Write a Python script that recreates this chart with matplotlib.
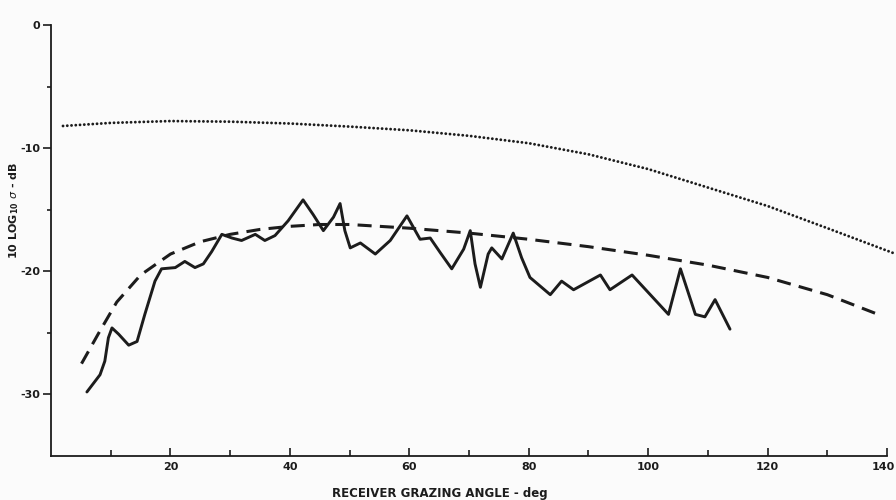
import numpy as np
import matplotlib
matplotlib.use("Agg")
import matplotlib.pyplot as plt
import matplotlib.transforms as mtransforms

# grazing angle (deg) vs 10 log10 sigma (dB)
solid_x = [6.0, 8.2, 9.0, 9.6, 10.2, 11.3, 13.0, 14.4, 15.7, 17.4, 18.5, 20.8,
           22.4, 24.1, 25.5, 26.9, 28.6, 30.3, 31.9, 34.2, 35.8, 37.5, 39.7,
           42.2, 43.9, 45.6, 47.3, 48.4, 49.2, 50.1, 51.8, 54.3, 56.8, 59.6,
           61.8, 63.5, 65.2, 67.1, 69.1, 70.2, 71.0, 71.9, 73.2, 73.8, 75.5,
           77.4, 78.8, 80.2, 83.6, 85.5, 87.5, 92.0, 93.6, 97.3, 103.4, 105.4,
           107.9, 109.5, 111.2, 113.7]
solid_y = [-29.8, -28.4, -27.3, -25.4, -24.6, -25.1, -26.0, -25.7, -23.5, -20.8,
           -19.8, -19.7, -19.2, -19.7, -19.4, -18.4, -17.0, -17.3, -17.5, -17.0,
           -17.5, -17.1, -15.9, -14.2, -15.4, -16.7, -15.6, -14.5, -16.7, -18.1,
           -17.7, -18.6, -17.5, -15.5, -17.4, -17.3, -18.5, -19.8, -18.2, -16.7,
           -19.4, -21.3, -18.6, -18.1, -19.0, -16.9, -18.9, -20.5, -21.9, -20.8,
           -21.5, -20.3, -21.5, -20.3, -23.5, -19.8, -23.5, -23.7, -22.3, -24.7]

dash_x = [5.1, 8, 11, 15, 20, 25, 30, 35, 40, 45, 50, 60, 70, 80, 90, 100,
          110, 120, 130, 138.5]
dash_y = [-27.5, -25.0, -22.5, -20.3, -18.6, -17.6, -17.0, -16.6, -16.35,
          -16.2, -16.2, -16.5, -16.9, -17.4, -18.0, -18.7, -19.5, -20.5,
          -21.9, -23.5]

dot_x = [2, 10, 20, 30, 40, 50, 60, 70, 80, 90, 100, 110, 120, 130, 141.5]
dot_y = [-8.2, -7.95, -7.8, -7.85, -8.0, -8.25, -8.55, -9.0, -9.6, -10.5,
         -11.7, -13.2, -14.7, -16.5, -18.6]

major_x = [20, 40, 60, 80, 100, 120, 140]
minor_x = [10, 30, 50, 70, 90, 110, 130]
major_y = [0, -10, -20, -30]
minor_y = [-5, -15, -25]

ink = "#1c1c1c"
bg = "#fbfbfb"

fig = plt.figure(figsize=(8.96, 5.0), dpi=100, facecolor=bg)
ax = fig.add_axes([0.057, 0.088, 0.943, 0.862])
ax.set_facecolor(bg)

ax.plot(dot_x, dot_y, color=ink, lw=2.1, linestyle=(0, (0.01, 1.45)),
        dash_capstyle="round", clip_on=False)
ax.plot(dash_x, dash_y, color=ink, lw=2.2, linestyle=(0, (4.6, 2.7)))
ax.plot(solid_x, solid_y, color=ink, lw=2.1, solid_joinstyle="round",
        solid_capstyle="round")

ax.set_xlim(0, 141.5)
ax.set_ylim(-35, 0)
for s in ["top", "right"]:
    ax.spines[s].set_visible(False)
ax.spines["bottom"].set_bounds(0, 140)
for s in ["left", "bottom"]:
    ax.spines[s].set_color(ink)
    ax.spines[s].set_linewidth(1.3)

ax.set_xticks(major_x)
ax.set_xticks(minor_x, minor=True)
ax.set_xticklabels([str(v) for v in major_x])
ax.set_yticks(major_y)
ax.set_yticks(minor_y, minor=True)
ax.set_yticklabels(["0", "-10", "-20", "-30"])

ax.tick_params(axis="x", which="major", direction="in", length=6, width=1.2,
               colors=ink, labelsize=8, pad=4)
ax.tick_params(axis="x", which="minor", direction="in", length=4, width=1.2,
               colors=ink)
ax.tick_params(axis="y", which="major", direction="out", length=6, width=1.2,
               colors=ink, labelsize=8, pad=2)
ax.tick_params(axis="y", which="minor", direction="out", length=3, width=1.2,
               colors=ink)
for lab in ax.get_xticklabels() + ax.get_yticklabels():
    lab.set_fontweight("bold")

# keep the last x label inside the picture
last = ax.get_xticklabels()[-1]
last.set_transform(last.get_transform() +
                   mtransforms.ScaledTranslation(-4 / 100, 0, fig.dpi_scale_trans))

ax.set_xlabel("RECEIVER GRAZING ANGLE - deg", fontsize=8.5, fontweight="bold",
              color=ink)
ax.xaxis.set_label_coords(0.46, -0.072)
ax.set_ylabel(r"10 LOG$_{\mathbf{10}}$ $\sigma$ - dB", fontsize=8, fontweight="bold",
              color=ink)
ax.yaxis.set_label_coords(-0.035, 0.57)

fig.savefig("out.png", dpi=100, facecolor=bg)
